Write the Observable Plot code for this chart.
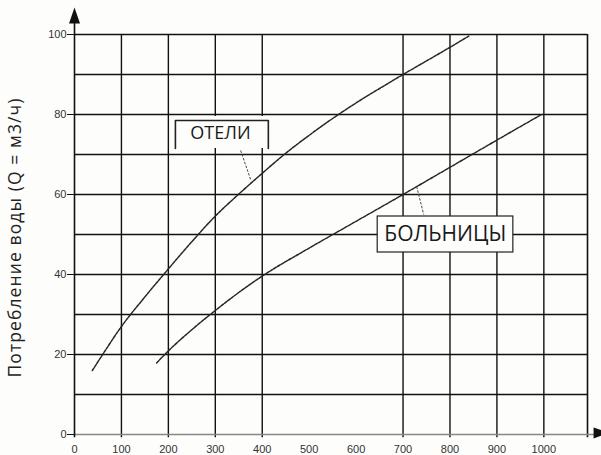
<!DOCTYPE html>
<html>
<head>
<meta charset="utf-8">
<script src="https://cdn.jsdelivr.net/npm/d3@7"></script>
<script src="https://cdn.jsdelivr.net/npm/@observablehq/plot@0.6"></script>
<style>
  html, body { margin: 0; padding: 0; background: #fdfdfb; }
</style>
</head>
<body>
<div id="chart"></div>
<script>
// ---- data ----
const xTicks = [0, 100, 200, 300, 400, 500, 600, 700, 800, 900, 1000];
const yTicks = [0, 20, 40, 60, 80, 100];
const gridX = [100, 200, 300, 400, 700, 800, 900, 1000];
const gridY = [10, 20, 30, 40, 50, 60, 70, 80, 90, 100];
const xMax = 1093;

const hotelsX = [38, 60, 100, 150, 200, 250, 300, 350, 400, 450, 500, 550, 600, 650, 700, 750, 800, 840];
const hotelsY = [16, 20, 27, 34.4, 41.4, 48.2, 54.6, 60.1, 65.3, 70.3, 74.8, 79, 82.9, 86.5, 90, 93.4, 96.8, 99.6];

const hospX = [175, 200, 250, 300, 350, 400, 500, 600, 700, 800, 900, 995];
const hospY = [17.9, 20.9, 26.2, 31, 35.5, 39.6, 46.6, 53.3, 60, 66.8, 73.6, 80];

const labelNames = ["ОТЕЛИ", "БОЛЬНИЦЫ"];
const labelX = [311, 790];
const labelY = [75.2, 50];
const boxX1 = [215, 646];
const boxX2 = [413, 935];
const boxY1 = [71, 45.5];
const boxY2 = [79.5, 54.5];
const leaderX1 = [354, 729];
const leaderY1 = [71, 62];
const leaderX2 = [376, 744];
const leaderY2 = [63.5, 55];

const yLabel = "Потребление воды (Q = м3/ч)";

// ---- build ----
const hotels = hotelsX.map((x, i) => ({x, y: hotelsY[i]}));
const hosp = hospX.map((x, i) => ({x, y: hospY[i]}));
const leaders = leaderX1.map((x, i) => ({x1: x, y1: leaderY1[i], x2: leaderX2[i], y2: leaderY2[i]}));
const bracket = [
  {x: boxX1[0], y: boxY1[0] + 0.5}, {x: boxX1[0], y: 78.5},
  {x: boxX2[0], y: 78.5}, {x: boxX2[0], y: boxY1[0] + 0.5}
];

const arrowUp = {draw(ctx) { ctx.moveTo(0, -8); ctx.lineTo(5.5, 8); ctx.lineTo(-5.5, 8); ctx.closePath(); }};
const arrowRight = {draw(ctx) { ctx.moveTo(8, 0); ctx.lineTo(-8, 5.5); ctx.lineTo(-8, -5.5); ctx.closePath(); }};

const chart = Plot.plot({
  width: 601,
  height: 455,
  marginLeft: 74,
  marginRight: 14,
  marginTop: 34,
  marginBottom: 21,
  x: {domain: [0, xMax]},
  y: {domain: [0, 100]},
  style: {background: "#fdfdfb", fontFamily: "Liberation Sans", fontSize: "11px", color: "#222"},
  marks: [
    Plot.ruleY(gridY, {x1: 0, x2: xMax, stroke: "#111", strokeWidth: 1.4}),
    Plot.ruleX(gridX, {y1: -0.8, y2: 100, stroke: "#111", strokeWidth: 1.4}),
    Plot.ruleX([xMax], {y1: -0.8, y2: 100, stroke: "#111", strokeWidth: 1.6}),
    Plot.ruleY([0], {x1: 0, x2: 1115, stroke: "#888", strokeWidth: 1.5}),
    Plot.ruleX([0], {y1: -0.8, y2: 103, stroke: "#111", strokeWidth: 1.6}),
    Plot.dot([{x: 0, y: 104.75}], {x: "x", y: "y", symbol: arrowUp, r: 5, fill: "#111", stroke: null}),
    Plot.dot([{x: 1123, y: 0.4}], {x: "x", y: "y", symbol: arrowRight, r: 5, fill: "#111", stroke: null}),
    Plot.axisX({ticks: xTicks, tickFormat: d => String(d), tickSize: 0, tickPadding: 11, label: null, fill: "#333"}),
    Plot.axisY({ticks: yTicks, tickFormat: d => String(d), tickSize: 7, tickPadding: 1, label: null, stroke: "#111", fill: "#333"}),
    Plot.line(hotels, {x: "x", y: "y", curve: "monotone-x", stroke: "#262626", strokeWidth: 1.5, strokeDasharray: "3,1.3"}),
    Plot.line(hosp, {x: "x", y: "y", curve: "monotone-x", stroke: "#262626", strokeWidth: 1.5, strokeDasharray: "3,1.3"}),
    Plot.link(leaders, {x1: "x1", y1: "y1", x2: "x2", y2: "y2", stroke: "#444", strokeWidth: 1, strokeDasharray: "2.5,1.5"}),
    // ОТЕЛИ: white box with open-bottom bracket
    Plot.rect([0], {x1: boxX1[0], x2: boxX2[0] + 3, y1: boxY1[0] + 0.5, y2: boxY2[0], fill: "#fdfdfb"}),
    Plot.line(bracket, {x: "x", y: "y", stroke: "#222", strokeWidth: 1.6}),
    // БОЛЬНИЦЫ: full box
    Plot.rect([0], {x1: boxX1[1], x2: boxX2[1], y1: boxY1[1], y2: boxY2[1], fill: "#fdfdfb", stroke: "#222", strokeWidth: 1.2}),
    Plot.text([0], {x: labelX[0], y: labelY[0], text: () => labelNames[0], fontFamily: "Open Sans", fontSize: 18, fill: "#1a1a1a"}),
    Plot.text([0], {x: labelX[1], y: labelY[1], text: () => labelNames[1], fontFamily: "Open Sans", fontSize: 21, fill: "#1a1a1a"}),
    Plot.text([yLabel], {frameAnchor: "left", dx: -59, dy: 3, rotate: -90, text: d => d, fontFamily: "Open Sans", fontSize: 17.5, fill: "#222", textAnchor: "middle"})
  ]
});
document.getElementById("chart").appendChild(chart);
// letter spacing on the rotated axis title
d3.select(chart).selectAll("text").filter(function() { return this.textContent === yLabel; })
  .attr("letter-spacing", "1.1px");
</script>
</body>
</html>
